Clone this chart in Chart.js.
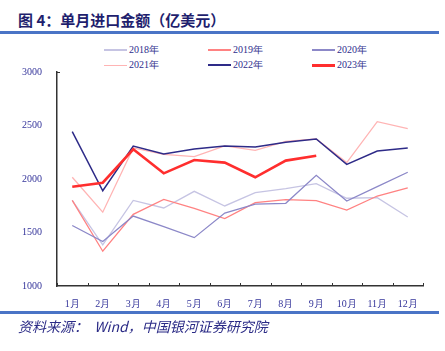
<!DOCTYPE html>
<html>
<head>
<meta charset="utf-8">
<script src="https://cdn.jsdelivr.net/npm/chart.js@4.4.0/dist/chart.umd.min.js"></script>
<style>
    html, body { margin: 0; padding: 0; background: #fff; }
    #wrap { position: relative; width: 445px; height: 351px; overflow: hidden; }
    #title {
        position: absolute; left: 18px; top: 9px;
        font: bold 15px "Noto Sans CJK SC", sans-serif; color: #1f1f6e;
    }
    .rule { position: absolute; left: 0; width: 439px; height: 3px; background: #4a74c6; }
    #source {
        position: absolute; left: 18px; top: 316px;
        font: italic 14px "Noto Sans CJK SC", serif; color: #2b2b86;
    }
    #legend { position: absolute; left: 0; top: 0; }
    .lg {
        position: absolute; font: 10px "Liberation Serif", serif; color: #2e2e8c;
        display: flex; align-items: center; height: 12px; white-space: nowrap;
    }
    .lg i { display: inline-block; width: 23px; margin-right: 2px; }
    canvas { position: absolute; left: 0; top: 0; }
</style>
</head>
<body>
<div id="wrap">
    <div id="title">图 4：单月进口金额（亿美元）</div>
    <div class="rule" style="top:31px"></div>
    <div id="legend"></div>
    <canvas id="chart" width="445" height="351"></canvas>
    <div class="rule" style="top:311px"></div>
    <div id="source">资料来源：&nbsp;&nbsp;Wind，中国银河证券研究院</div>
</div>
<script>
// ================= DATA =================
const months = ['1月', '2月', '3月', '4月', '5月', '6月', '7月', '8月', '9月', '10月', '11月', '12月'];
const yTicks = [1000, 1500, 2000, 2500, 3000];

const y2018 = [1800, 1385, 1800, 1729, 1885, 1748, 1873, 1910, 1957, 1820, 1826, 1645];
const y2019 = [1800, 1325, 1670, 1810, 1726, 1630, 1779, 1807, 1798, 1710, 1841, 1916];
const y2020 = [1565, 1415, 1654, 1555, 1452, 1682, 1766, 1773, 2035, 1794, 1929, 2063];
const y2021 = [2016, 1690, 2290, 2230, 2209, 2310, 2268, 2352, 2374, 2153, 2536, 2471];
const y2022 = [2442, 1890, 2308, 2234, 2280, 2308, 2299, 2343, 2374, 2137, 2262, 2290];
const y2023 = [1928, 1965, 2278, 2053, 2178, 2153, 2016, 2172, 2218];

const series = [
    { label: '2018年', data: y2018, color: '#c6c4e3', width: 1.3 },
    { label: '2019年', data: y2019, color: '#ff8282', width: 1.3 },
    { label: '2020年', data: y2020, color: '#8c88c8', width: 1.3 },
    { label: '2021年', data: y2021, color: '#ffb4b4', width: 1.3 },
    { label: '2022年', data: y2022, color: '#2e2b88', width: 1.5 },
    { label: '2023年', data: y2023, color: '#ff2e2e', width: 2.6 }
];

const TEXT = '#34349a';

// ================= LEGEND =================
function renderLegend() {
    const el = document.getElementById('legend');
    el.innerHTML = series.map((s, i) => {
        const col = i % 3, row = Math.floor(i / 3);
        const h = s.width > 2 ? 3 : (i === 3 ? 1 : 2);
        return `<div class="lg" style="left:${104 + col * 104}px;top:${44 + row * 15}px">
            <i style="height:${h}px;background:${s.color}"></i>${s.label}</div>`;
    }).join('');
}

// x-axis tick marks pointing up between categories
const innerTicks = {
    id: 'innerTicks',
    afterDraw(chart) {
        const { ctx, chartArea: a } = chart;
        ctx.save();
        ctx.strokeStyle = '#333';
        ctx.lineWidth = 1;
        ctx.beginPath();
        for (let i = 0; i <= months.length; i++) {
            const px = Math.round(a.left + (a.right - a.left) * i / months.length) + 0.5;
            ctx.moveTo(px, a.bottom);
            ctx.lineTo(px, a.bottom - 3);
        }
        // small tick at top of y axis
        ctx.moveTo(a.left, a.top + 0.5);
        ctx.lineTo(a.left + 3, a.top + 0.5);
        ctx.stroke();
        ctx.restore();
    }
};

// ================= CHART =================
function initChart() {
    const ctx = document.getElementById('chart').getContext('2d');
    new Chart(ctx, {
        type: 'line',
        data: {
            labels: months,
            datasets: series.map((s, i) => ({
                label: s.label,
                data: s.data,
                borderColor: s.color,
                borderWidth: s.width,
                pointRadius: 0,
                fill: false,
                tension: 0,
                order: series.length - i
            }))
        },
        options: {
            responsive: false,
            animation: false,
            layout: { padding: { left: 0, top: 72, right: 22, bottom: 43 } },
            plugins: { legend: { display: false }, tooltip: { enabled: false } },
            scales: {
                x: {
                    offset: true,
                    grid: { display: false },
                    border: { display: true, color: '#333', width: 1.5 },
                    ticks: { color: TEXT, padding: 4, font: { family: 'Liberation Serif', size: 10 }, maxRotation: 0 },
                    afterFit: s => { s.height = 22; }
                },
                y: {
                    min: 1000,
                    max: 3000,
                    afterBuildTicks: s => { s.ticks = yTicks.map(v => ({ value: v })); },
                    grid: { display: false },
                    border: { display: true, color: '#333', width: 1.5 },
                    ticks: {
                        color: TEXT, padding: 7, font: { family: 'Liberation Serif', size: 10 },
                        callback: v => String(v)
                    },
                    afterFit: s => { s.width = 57; }
                }
            }
        },
        plugins: [innerTicks]
    });
}

window.addEventListener('DOMContentLoaded', () => {
    renderLegend();
    initChart();
});
</script>
</body>
</html>
